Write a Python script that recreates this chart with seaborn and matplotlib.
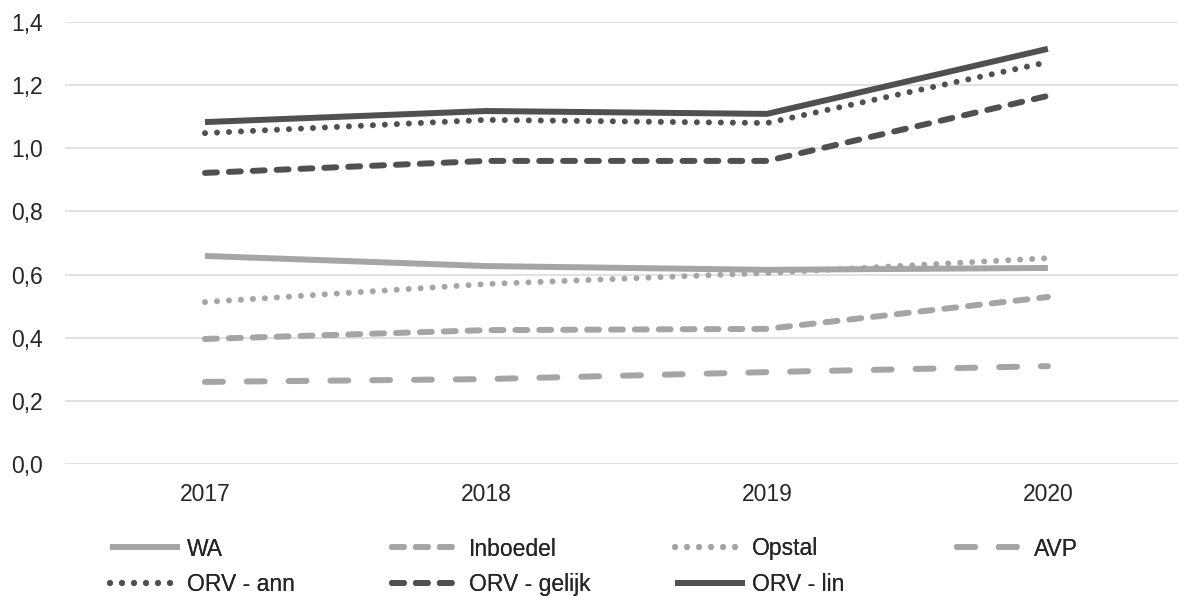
import matplotlib
matplotlib.use("Agg")
import matplotlib.pyplot as plt
import matplotlib.ticker as mticker
import seaborn as sns
import pandas as pd

years = [2017, 2018, 2019, 2020]

wa = [0.659, 0.627, 0.615, 0.621]
inboedel = [0.396, 0.424, 0.428, 0.529]
opstal = [0.513, 0.570, 0.605, 0.652]
avp = [0.260, 0.269, 0.291, 0.310]
orv_ann = [1.048, 1.090, 1.080, 1.273]
orv_gelijk = [0.922, 0.960, 0.960, 1.166]
orv_lin = [1.083, 1.118, 1.109, 1.315]

series_names = ["WA", "Inboedel", "Opstal", "AVP", "ORV - ann", "ORV - gelijk", "ORV - lin"]
series_values = [wa, inboedel, opstal, avp, orv_ann, orv_gelijk, orv_lin]

y_ticks = [0.0, 0.2, 0.4, 0.6, 0.8, 1.0, 1.2, 1.4]

light = "#A5A5A5"
dark = "#505050"
palette = {
    "WA": light, "Inboedel": light, "Opstal": light, "AVP": light,
    "ORV - ann": dark, "ORV - gelijk": dark, "ORV - lin": dark,
}
# dash patterns in units of line width (round caps add one width to each dash)
dashes = {
    "WA": "",
    "Inboedel": (2, 2),
    "Opstal": (0.01, 2),
    "AVP": (3, 4),
    "ORV - ann": (0.01, 2),
    "ORV - gelijk": (2, 2),
    "ORV - lin": "",
}

df = pd.DataFrame(
    [(y, v, name) for name, vals in zip(series_names, series_values) for y, v in zip(years, vals)],
    columns=["jaar", "waarde", "reeks"],
)

sns.set_theme(style="white")
plt.rcParams["font.family"] = ["Liberation Sans", "DejaVu Sans"]
plt.rcParams["lines.dash_capstyle"] = "round"
plt.rcParams["lines.solid_capstyle"] = "butt"

FS = 16.5
TEXT = "#262626"

fig = plt.figure(figsize=(11.78, 5.96), dpi=100)
ax = fig.add_axes([64.5 / 1178, 1 - 464 / 596, 1 - 64.5 / 1178, (464 - 22) / 596])

sns.lineplot(
    data=df, x="jaar", y="waarde", hue="reeks", style="reeks",
    hue_order=series_names, style_order=series_names,
    palette=palette, dashes=dashes, linewidth=4.3, ax=ax, legend=True,
)

ax.set_xlim(2016.5, 2020.463)
ax.set_ylim(0, 1.4)
ax.set_xticks(years)
ax.set_xticklabels([str(y) for y in years])
ax.set_yticks(y_ticks)
ax.yaxis.set_major_formatter(mticker.FuncFormatter(lambda v, p: f"{v:.1f}".replace(".", ",")))
ax.grid(axis="y", color="#D9D9D9", linewidth=1.1)
ax.grid(axis="x", visible=False)
ax.set_axisbelow(True)
for s in ax.spines.values():
    s.set_visible(False)
ax.tick_params(axis="both", length=0, labelsize=FS, labelcolor=TEXT)
ax.tick_params(axis="y", pad=15.5)
ax.tick_params(axis="x", pad=14)
ax.set_xlabel("")
ax.set_ylabel("")

handles, labels = ax.get_legend_handles_labels()
lookup = dict(zip(labels, handles))
ax.get_legend().remove()

# legend laid out as evenly spaced columns
columns = [["WA", "ORV - ann"], ["Inboedel", "ORV - gelijk"], ["Opstal", "ORV - lin"], ["AVP"]]
col_x = [110, 392, 675, 957]
for names, x in zip(columns, col_x):
    leg = fig.legend(
        [lookup[n] for n in names], names, ncol=1, frameon=False,
        loc="upper left", bbox_to_anchor=(x / 1178, 1 - 537.5 / 596),
        borderpad=0, borderaxespad=0, handlelength=3.06, handletextpad=0.28,
        labelspacing=0.54, fontsize=FS,
    )
    for t in leg.get_texts():
        t.set_color(TEXT)
    fig.add_artist(leg)

fig.savefig("out.png", dpi=100)
